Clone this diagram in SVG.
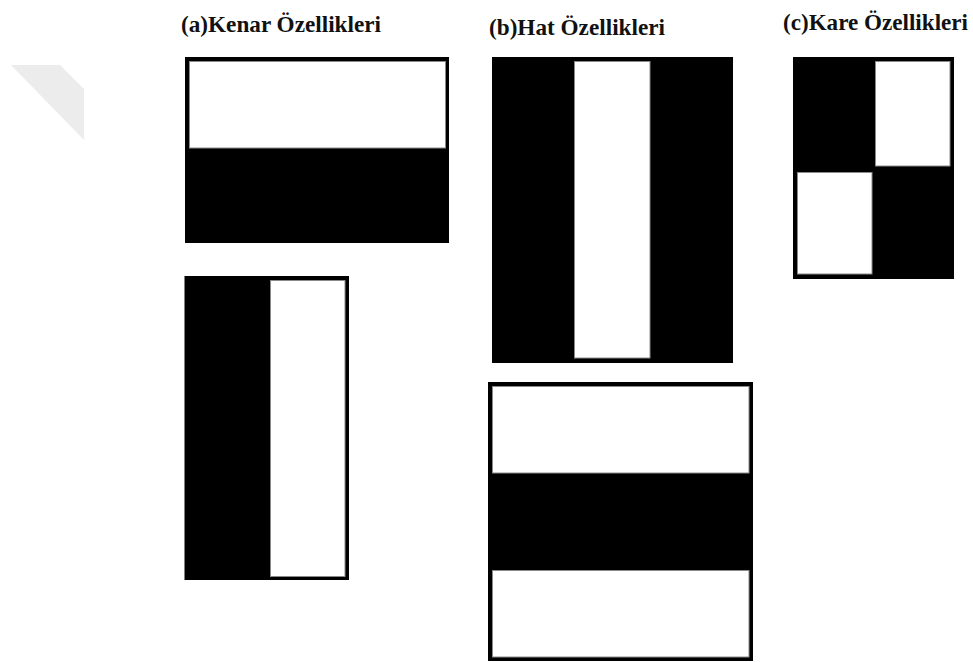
<svg xmlns="http://www.w3.org/2000/svg" width="973" height="662" viewBox="0 0 973 662">
<style>
.lbl{font-family:"Liberation Serif","Times New Roman",serif;font-weight:bold;font-size:22.5px;fill:#111}
.blk{fill:#000}
.wht{fill:#fff;stroke:#8a8a8a;stroke-width:1}
</style>
<rect width="973" height="662" fill="#fff"/>
<polygon points="11,65 60,65 84,89 84,140" fill="#ececec"/>
<g id="label-a"><text class="lbl" x="181" y="32" textLength="200" lengthAdjust="spacingAndGlyphs">(a)Kenar Özellikleri</text></g>
<g id="label-b"><text class="lbl" x="489" y="35" textLength="176" lengthAdjust="spacingAndGlyphs">(b)Hat Özellikleri</text></g>
<g id="label-c"><text class="lbl" x="783" y="30" textLength="185" lengthAdjust="spacingAndGlyphs">(c)Kare Özellikleri</text></g>
<g id="edge-horizontal">
<rect class="blk" x="185" y="57" width="264" height="186"/>
<rect class="wht" x="189.5" y="61.5" width="256" height="86.5"/>
</g>
<g id="edge-vertical">
<rect class="blk" x="184.5" y="276" width="164.5" height="304"/>
<rect class="wht" x="270.5" y="280.5" width="74.5" height="296"/>
</g>
<g id="line-vertical">
<rect class="blk" x="492" y="57" width="241" height="306"/>
<rect class="wht" x="574.5" y="61.5" width="75.5" height="296.5"/>
</g>
<g id="line-horizontal">
<rect class="blk" x="488" y="382" width="265" height="279"/>
<rect class="wht" x="492.5" y="386.5" width="256.5" height="86.5"/>
<rect class="wht" x="492.5" y="570.5" width="256.5" height="86.5"/>
</g>
<g id="square">
<rect class="blk" x="793" y="57" width="161" height="222"/>
<rect class="wht" x="875.5" y="61.5" width="74.5" height="104.5"/>
<rect class="wht" x="797.5" y="172.5" width="74.5" height="101.5"/>
</g>
</svg>
